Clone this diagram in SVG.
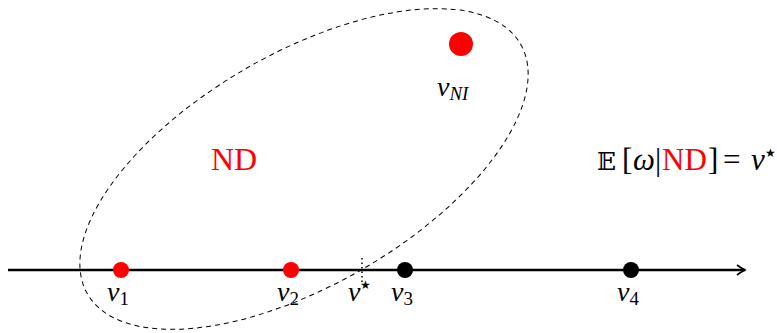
<svg xmlns="http://www.w3.org/2000/svg" width="777" height="333" viewBox="0 0 777 333">
<style>
text{font-family:"Liberation Serif","DejaVu Serif",serif}
.m{font-style:italic;font-size:28px;fill:#000}
.sub{font-style:normal;font-size:19px}
.subi{font-style:italic;font-size:19px}
.st{font-style:normal;font-size:12px}
.red{fill:#ff0000}
</style>
<defs>
<marker id="arr" markerWidth="12" markerHeight="12" refX="10" refY="6" orient="auto" markerUnits="userSpaceOnUse">
<path d="M2,1 Q6,4 10,6 Q6,8 2,11" fill="none" stroke="#000" stroke-width="1.6"/>
</marker>
</defs>
<g id="region">
<ellipse cx="304" cy="169" rx="250" ry="116" transform="rotate(-30 304 169)" fill="none" stroke="#000" stroke-width="1" stroke-dasharray="5,4"/>
</g>
<g id="connectors">
<line x1="8" y1="270" x2="745" y2="270" stroke="#000" stroke-width="2.4" marker-end="url(#arr)"/>
<line x1="362" y1="258" x2="362" y2="283" stroke="#000" stroke-width="1.5" stroke-dasharray="1.5,3"/>
</g>
<g id="v1"><circle cx="121" cy="270" r="8" fill="#ff0000"/><text x="107" y="301" class="m">v<tspan class="sub" dy="4">1</tspan></text></g>
<g id="v2"><circle cx="291" cy="270" r="8" fill="#ff0000"/><text x="277" y="301" class="m">v<tspan class="sub" dy="4">2</tspan></text></g>
<g id="v3"><circle cx="405" cy="270" r="8" fill="#000"/><text x="391" y="301" class="m">v<tspan class="sub" dy="4">3</tspan></text></g>
<g id="v4"><circle cx="631" cy="270" r="8" fill="#000"/><text x="617" y="301" class="m">v<tspan class="sub" dy="4">4</tspan></text></g>
<g id="vstar"><text x="348" y="301" class="m">v<tspan class="st" dy="-12">★</tspan></text></g>
<g id="vNI"><circle cx="461" cy="44" r="12" fill="#ff0000"/><text x="437" y="96" class="m">v<tspan class="subi" dy="4">NI</tspan></text></g>
<g id="ND"><text x="234" y="170" class="red" style="font-size:32px" text-anchor="middle">ND</text></g>
<g id="eq"><text y="170" style="font-size:31px"><tspan x="597" style="font-size:25px">𝔼</tspan><tspan x="622">[</tspan><tspan x="633" font-style="italic">ω</tspan><tspan x="655">|</tspan><tspan x="662" class="red">ND</tspan><tspan x="708">]</tspan><tspan x="723">=</tspan><tspan x="751" font-style="italic">v</tspan><tspan class="st" x="765" dy="-13">★</tspan></text></g>
</svg>
